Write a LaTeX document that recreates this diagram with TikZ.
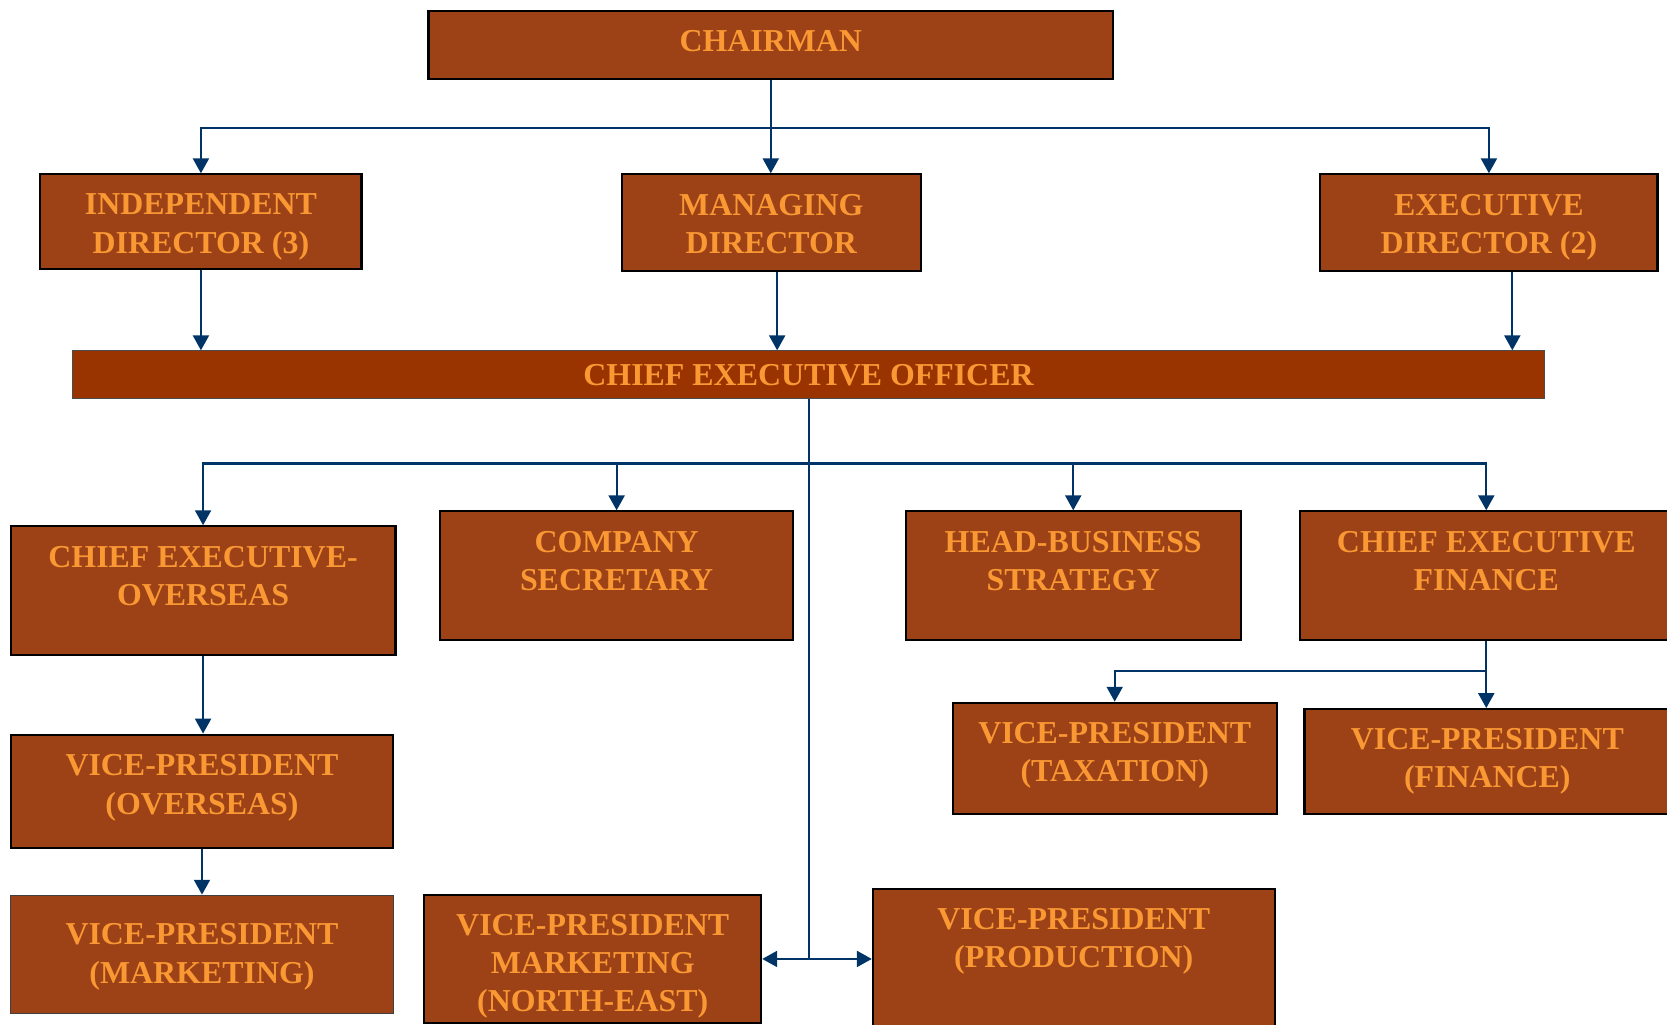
\documentclass[tikz,border=0pt]{standalone}
\usepackage{fontspec}
\setmainfont{Liberation Serif}
\usetikzlibrary{arrows.meta,calc}

\definecolor{boxfill}{RGB}{156,66,22}
\definecolor{ceofill}{RGB}{153,51,0}
\definecolor{txtorange}{RGB}{250,152,52}
\definecolor{linkblue}{RGB}{0,51,102}

% box text: width, height, top padding, lines
\newcommand\boxtext[4]{\vbox to #2{\hsize=#1\relax\vskip#3\relax
  \centering\hyphenpenalty=10000\exhyphenpenalty=10000 #4\par\vss}}
\newcommand\orgfont{\bfseries\fontsize{30}{36}\selectfont}

\tikzset{
  orgbox/.style={draw=black, line width=2pt, fill=boxfill, inner sep=0pt,
    text=txtorange, font=\orgfont},
  ceobox/.style={draw=black!70, line width=1pt, fill=ceofill, inner sep=0pt,
    text=txtorange, font=\orgfont, minimum width=1385pt, minimum height=45pt},
  link/.style={draw=linkblue, line width=2pt},
  arrlink/.style={link, -{Triangle[width=15pt,length=14pt]}},
}

\begin{document}
\begin{tikzpicture}[x=1pt,y=1pt]
\useasboundingbox (0,0) rectangle (1568,-964);

% top board
\node[orgbox] (chair) at (725,-42) {\boxtext{644pt}{64pt}{19pt}{CHAIRMAN}};
\node[orgbox] (indep) at (189,-208.5) {\boxtext{302pt}{89pt}{18.5pt}{INDEPENDENT\\DIRECTOR (3)}};
\node[orgbox] (mng) at (725.5,-209.5) {\boxtext{281pt}{91pt}{18.5pt}{MANAGING\\DIRECTOR}};
\node[orgbox] (exec) at (1400.5,-209.5) {\boxtext{317pt}{91pt}{18.5pt}{EXECUTIVE\\DIRECTOR (2)}};

% chief executive
\node[ceobox] (ceo) at (760.5,-352.5) {CHIEF EXECUTIVE OFFICER};

% second level
\node[orgbox] (ceov) at (191,-555.5) {\boxtext{362pt}{121pt}{19pt}{CHIEF EXECUTIVE-\\OVERSEAS}};
\node[orgbox] (sec) at (580,-541.5) {\boxtext{332pt}{121pt}{18.5pt}{COMPANY\\SECRETARY}};
\node[orgbox] (hbs) at (1009.5,-541.5) {\boxtext{315pt}{121pt}{18.5pt}{HEAD-BUSINESS\\STRATEGY}};
\node[orgbox] (cef) at (1398,-541.5) {\boxtext{350pt}{121pt}{18.5pt}{CHIEF EXECUTIVE\\FINANCE}};

% finance branch
\node[orgbox] (vptax) at (1048.5,-713.5) {\boxtext{305pt}{105pt}{18pt}{VICE-PRESIDENT\\(TAXATION)}};
\node[orgbox] (vpfin) at (1399,-716.5) {\boxtext{344pt}{99pt}{18pt}{VICE-PRESIDENT\\(FINANCE)}};

% overseas branch
\node[orgbox] (vpov) at (190,-744.5) {\boxtext{360pt}{107pt}{19pt}{VICE-PRESIDENT\\(OVERSEAS)}};
\node[orgbox, draw=black!75, line width=1pt] (vpmk) at (190,-897.5) {\boxtext{360pt}{111pt}{27pt}{VICE-PRESIDENT\\(MARKETING)}};

% bottom row
\node[orgbox] (vpne) at (557.5,-902) {\boxtext{317pt}{120pt}{18pt}{VICE-PRESIDENT\\MARKETING\\(NORTH-EAST)}};
\node[orgbox] (vppr) at (1010,-906) {\boxtext{378pt}{140pt}{18pt}{VICE-PRESIDENT\\(PRODUCTION)}};

% chairman to directors
\coordinate (busA) at (725,-120);
\draw[link] (chair.south) -- (busA);
\draw[arrlink] (busA) -| (indep.north);
\draw[arrlink] (busA) -- (busA |- mng.north);
\draw[arrlink] (busA) -| (exec.north);

% directors to chief executive
\draw[arrlink] (indep.south) -- (indep.south |- ceo.north);
\draw[arrlink] ([xshift=5.5pt]mng.south) -- ([xshift=5.5pt]mng.south |- ceo.north);
\draw[arrlink] ([xshift=22pt]exec.south) -- ([xshift=22pt]exec.south |- ceo.north);

% chief executive to reports
\coordinate (busB) at (761,-436);
\coordinate (hub) at (761,-902);
\draw[link] (ceo.south -| hub) -- (hub);
\draw[arrlink] (busB) -| (ceov.north);
\draw[arrlink] (busB) -| (sec.north);
\draw[arrlink] (busB) -| (hbs.north);
\draw[arrlink] (busB) -| (cef.north);
\draw[arrlink] (hub) -- (hub -| vpne.east);
\draw[arrlink] (hub) -- (hub -| vppr.west);

% overseas chain
\draw[arrlink] (ceov.south) -- (ceov.south |- vpov.north);
\draw[arrlink] (vpov.south) -- (vpov.south |- vpmk.north);

% finance chain
\coordinate (busC) at (1398,-631);
\draw[link] (cef.south) -- (busC);
\draw[arrlink] (busC) -| (vptax.north);
\draw[arrlink] (busC) -- (busC |- vpfin.north);
\end{tikzpicture}
\end{document}
